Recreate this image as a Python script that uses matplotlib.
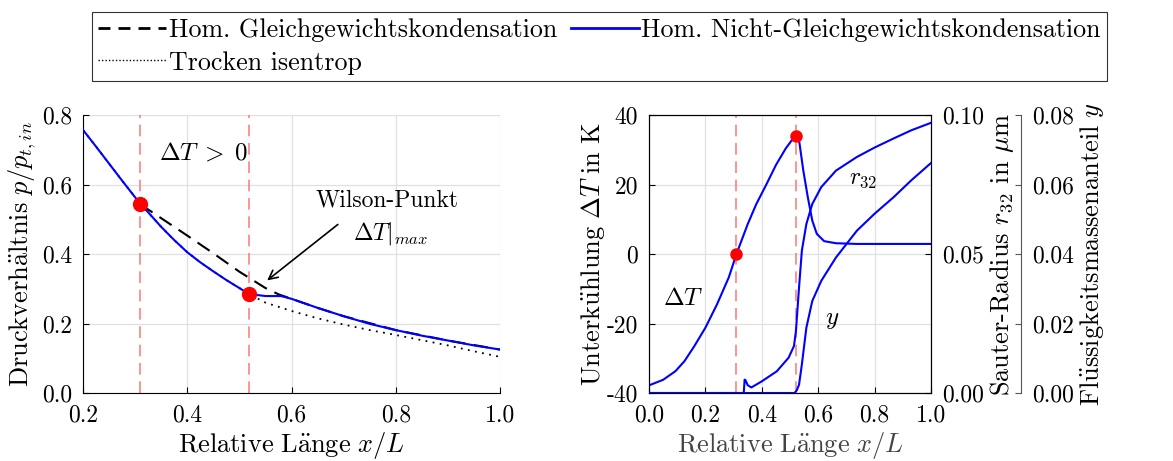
import numpy as np
import matplotlib
matplotlib.use("Agg")
import matplotlib.pyplot as plt
from matplotlib.lines import Line2D

plt.rcParams['font.family'] = ['cmr10', 'DejaVu Serif']
plt.rcParams['mathtext.fontset'] = 'cm'
plt.rcParams['axes.unicode_minus'] = False
plt.rcParams['font.size'] = 16

# left plot: pressure ratio
x_blue = [0.2, 0.225, 0.25, 0.275, 0.3, 0.31, 0.35, 0.375, 0.4, 0.425, 0.45, 0.475,
          0.5, 0.518, 0.55, 0.58, 0.6, 0.65, 0.7, 0.75, 0.8, 0.85, 0.9, 0.95, 1.0]
p_blue = [0.757, 0.709, 0.660, 0.611, 0.563, 0.545, 0.478, 0.44, 0.405, 0.376, 0.350,
          0.325, 0.302, 0.285, 0.279, 0.279, 0.271, 0.245, 0.221, 0.199, 0.181, 0.165,
          0.151, 0.137, 0.125]
x_dry = [0.2, 0.225, 0.25, 0.275, 0.3, 0.31, 0.35, 0.375, 0.4, 0.425, 0.45, 0.475,
         0.5, 0.518, 0.55, 0.6, 0.65, 0.7, 0.75, 0.8, 0.85, 0.9, 0.95, 1.0]
p_dry = [0.757, 0.709, 0.660, 0.611, 0.563, 0.545, 0.478, 0.44, 0.405, 0.376, 0.350,
         0.325, 0.302, 0.285, 0.260, 0.236, 0.215, 0.197, 0.181, 0.167, 0.152, 0.137,
         0.120, 0.104]
x_eq = [0.31, 0.35, 0.4, 0.45, 0.5, 0.55, 0.575, 0.6, 0.65, 0.7, 0.8, 0.9, 1.0]
p_eq = [0.543, 0.503, 0.453, 0.402, 0.349, 0.302, 0.284, 0.271, 0.245, 0.221,
        0.181, 0.151, 0.125]
x_mark = [0.31, 0.518]
p_mark = [0.545, 0.284]

# right plot
x_dT = [0.0, 0.05, 0.094, 0.126, 0.16, 0.2, 0.241, 0.283, 0.31, 0.35, 0.38, 0.416,
        0.45, 0.485, 0.505, 0.52, 0.532, 0.547, 0.563, 0.579, 0.595, 0.621, 0.663,
        0.737, 0.868, 1.0]
dT = [-37.8, -36.2, -33.7, -30.8, -26.6, -21.2, -14.5, -6.7, 0.0, 8.6, 14.3, 20.0,
      25.6, 30.4, 32.6, 33.9, 32.8, 24.1, 16.4, 9.6, 5.8, 3.7, 3.1, 2.9, 2.9, 2.9]
x_r32 = [0.0, 0.336, 0.339, 0.342, 0.35, 0.363, 0.4, 0.453, 0.495, 0.514, 0.521,
         0.532, 0.542, 0.558, 0.579, 0.611, 0.663, 0.737, 0.8, 0.868, 0.93, 1.0]
r32 = [0.0, 0.0, 0.0048, 0.0046, 0.0028, 0.002, 0.0042, 0.0078, 0.0127, 0.0169,
       0.0223, 0.038, 0.0512, 0.0608, 0.068, 0.0741, 0.080, 0.0849, 0.0883, 0.0916,
       0.0945, 0.0972]
x_y = [0.0, 0.516, 0.524, 0.532, 0.542, 0.558, 0.579, 0.611, 0.663, 0.737, 0.8,
       0.868, 0.93, 1.0]
y_liq = [0.0, 0.0, 0.0008, 0.0024, 0.0082, 0.0188, 0.0265, 0.0323, 0.039, 0.0467,
         0.0516, 0.0564, 0.0612, 0.0662]
x_mark2 = [0.31, 0.52]
dT_mark = [0.0, 33.9]

blue = '#0000ff'
red_line = '#ff8080'
lab = 19

fig = plt.figure(figsize=(11.73, 4.61), dpi=100)
ax1 = fig.add_axes([0.0708, 0.1475, 0.3555, 0.603])
ax2 = fig.add_axes([0.5533, 0.1475, 0.2404, 0.603])

# left
for xv in x_mark:
    ax1.axvline(xv, color=red_line, ls=(0, (7, 4)), lw=1.2, zorder=1)
ax1.plot(x_dry, p_dry, color='k', ls=(0, (1, 3)), lw=1.3, zorder=2)
ax1.plot(x_eq, p_eq, color='k', ls=(0, (7, 4)), lw=1.5, zorder=2)
ax1.plot(x_blue, p_blue, color=blue, lw=1.5, zorder=3)
ax1.plot(x_mark, p_mark, 'o', color='#ff0000', ms=10, zorder=4)
ax1.set_xlim(0.2, 1.0)
ax1.set_ylim(0, 0.8)
ax1.set_xticks([0.2, 0.4, 0.6, 0.8, 1.0])
ax1.set_yticks([0.0, 0.2, 0.4, 0.6, 0.8])
ax1.set_xticklabels(['0.2', '0.4', '0.6', '0.8', '1.0'])
ax1.set_yticklabels(['0.0', '0.2', '0.4', '0.6', '0.8'])
ax1.grid(color='#e0e0e0', lw=0.9)
ax1.set_axisbelow(True)
for s in ['top', 'right']:
    ax1.spines[s].set_visible(False)
ax1.tick_params(direction='in', length=4, labelsize=17, pad=8)
ax1.set_xlabel(r'$\mathrm{Relative\ L\ddot{a}nge}\ x/L$', fontsize=lab, labelpad=3)
ax1.set_ylabel(r'$\mathrm{Druckverh\ddot{a}ltnis}\ p/p_{t,in}$', fontsize=lab,
               labelpad=3)
ax1.text(0.345, 0.69, r'$\Delta T\;>\;0$', fontsize=18, ha='left', va='center')
ax1.text(0.783, 0.555, 'Wilson-Punkt', fontsize=17, ha='center', va='center')
ax1.text(0.79, 0.46, r'$\Delta T|_{max}$', fontsize=17, ha='center', va='center')
ax1.annotate('', xy=(0.549, 0.319), xytext=(0.693, 0.49),
             arrowprops=dict(arrowstyle='->', color='k', lw=1.2))

# right
for xv in x_mark2:
    ax2.axvline(xv, color=red_line, ls=(0, (7, 4)), lw=1.2, zorder=1)
ax2.plot(x_dT, dT, color=blue, lw=1.5, zorder=3)
ax2.plot(x_mark2, dT_mark, 'o', color='#ff0000', ms=8, zorder=4)
ax2.set_xlim(0, 1)
ax2.set_ylim(-40, 40)
ax2.set_xticks([0.0, 0.2, 0.4, 0.6, 0.8, 1.0])
ax2.set_xticklabels(['0.0', '0.2', '0.4', '0.6', '0.8', '1.0'])
ax2.set_yticks([-40, -20, 0, 20, 40])
ax2.set_yticklabels(['-40', '-20', '0', '20', '40'])
ax2.grid(color='#e0e0e0', lw=0.9)
ax2.set_axisbelow(True)
ax2.tick_params(direction='in', length=4, labelsize=17, pad=8)
ax2.set_xlabel(r'$\mathrm{Relative\ L\ddot{a}nge}\ x/L$', fontsize=lab,
               color='#444444', labelpad=3)
ax2.set_ylabel(r'$\mathrm{Unterk\ddot{u}hlung}\ \Delta T\ \mathrm{in\ K}$',
               fontsize=lab, labelpad=0)
ax2.text(0.12, -13, r'$\Delta T$', fontsize=18, ha='center', va='center')
ax2.text(0.76, 21.5, r'$r_{32}$', fontsize=17, ha='center', va='center')
ax2.text(0.65, -19, r'$y$', fontsize=18, ha='center', va='center')

ax3 = ax2.twinx()
ax3.plot(x_r32, r32, color=blue, lw=1.5)
ax3.set_ylim(0, 0.1)
ax3.set_yticks([0.0, 0.05, 0.10])
ax3.set_yticklabels(['0.00', '0.05', '0.10'])
ax3.tick_params(direction='in', length=4, labelsize=17, pad=8)
ax3.set_ylabel(r'Sauter-Radius $r_{32}$ in $\mu$m', fontsize=lab, labelpad=3)

ax4 = ax2.twinx()
ax4.spines['right'].set_position(('outward', 65))
for s in ['top', 'left', 'bottom']:
    ax4.spines[s].set_visible(False)
ax4.spines['right'].set_color('#555555')
ax4.plot(x_y, y_liq, color=blue, lw=1.5)
ax4.set_ylim(0, 0.08)
ax4.set_yticks([0.0, 0.02, 0.04, 0.06, 0.08])
ax4.set_yticklabels(['0.00', '0.02', '0.04', '0.06', '0.08'])
ax4.tick_params(direction='in', length=4, labelsize=17, pad=8, color='#555555')
ax4.set_ylabel(r'$\mathrm{Fl\ddot{u}ssigkeitsmassenanteil}\ y$', fontsize=lab,
               labelpad=3)

handles = [Line2D([], [], color='k', ls=(0, (4.3, 2.9)), lw=2),
           Line2D([], [], color='k', ls=(0, (1, 1.5)), lw=1),
           Line2D([], [], color=blue, lw=2)]
labels = ['Hom. Gleichgewichtskondensation', 'Trocken isentrop',
          'Hom. Nicht-Gleichgewichtskondensation']
leg = fig.legend(handles, labels, loc='upper left', bbox_to_anchor=(0.0784, 0.975),
                 ncol=2, frameon=True, fancybox=False, edgecolor='k',
                 fontsize=18.7, handlelength=2.6, handletextpad=0.1,
                 columnspacing=0.55, borderaxespad=0, borderpad=0.25,
                 labelspacing=0.35)
leg.get_frame().set_linewidth(0.8)

fig.savefig('out.png', dpi=100)
